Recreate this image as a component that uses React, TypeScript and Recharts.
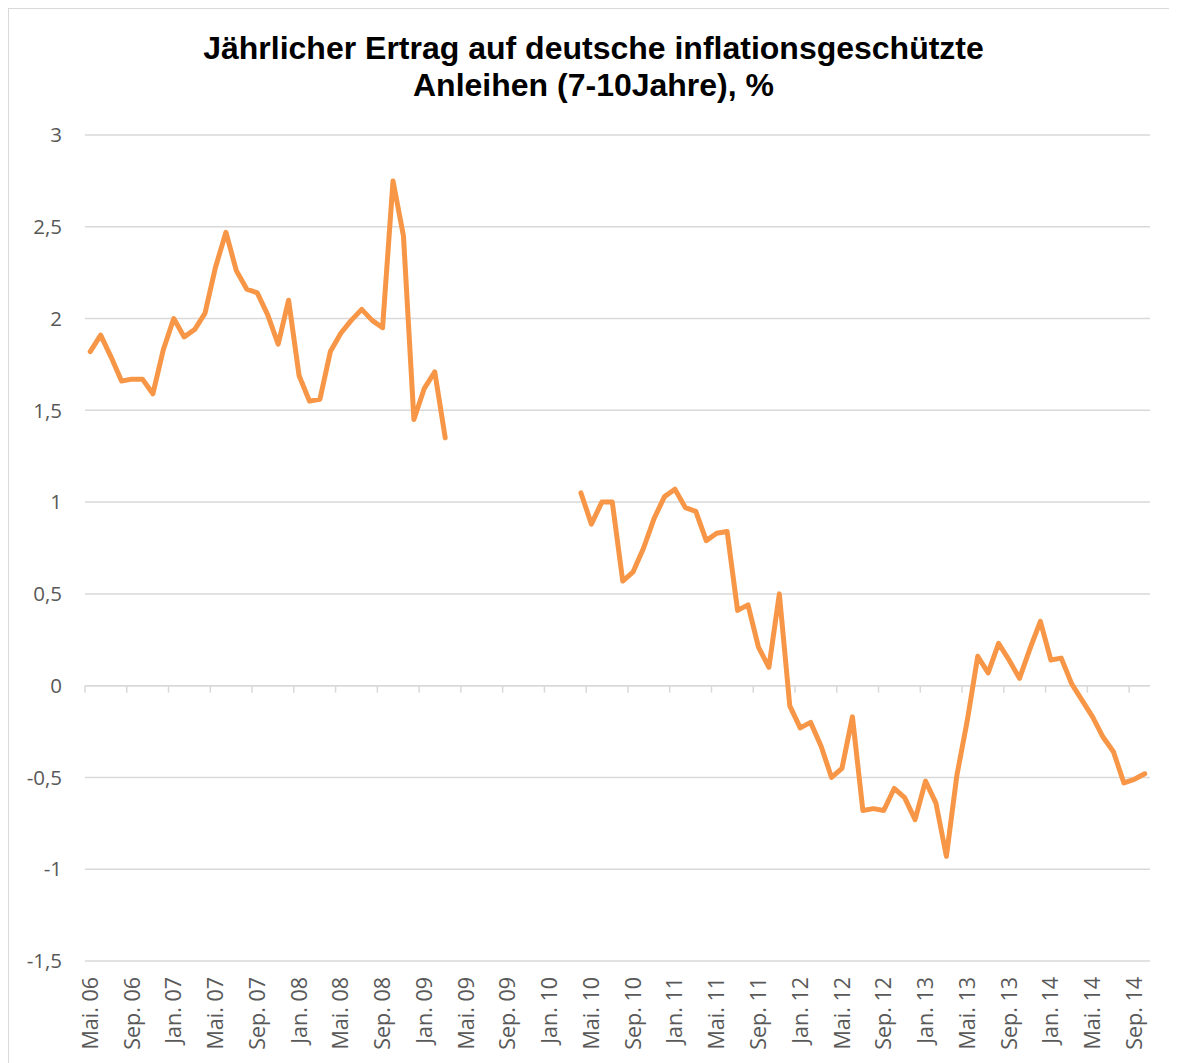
import React from 'react'
import { LineChart, Line, XAxis, YAxis, CartesianGrid, ReferenceLine } from 'recharts'

// month names used for the category labels (Mai 2006 .. Okt 2014)
const monthNames = ['Jan.', 'Feb.', 'Mär.', 'Apr.', 'Mai.', 'Jun.', 'Jul.', 'Aug.', 'Sep.', 'Okt.', 'Nov.', 'Dez.']
const startYear = 2006
const startMonth = 4

// yearly yield, % (null = no data)
const firstPeriod = [
  1.82, 1.91, 1.79, 1.66, 1.67, 1.67, 1.59, 1.83, 2.0, 1.9, 1.94, 2.03,
  2.28, 2.47, 2.26, 2.16, 2.14, 2.02, 1.86, 2.1, 1.69, 1.55, 1.56, 1.82,
  1.92, 1.99, 2.05, 1.99, 1.95, 2.75, 2.45, 1.45, 1.62, 1.71, 1.35,
]
const gap = [null, null, null, null, null, null, null, null, null, null, null, null]
const secondPeriod = [
  1.05, 0.88, 1.0, 1.0, 0.57, 0.62, 0.75, 0.91, 1.03, 1.07,
  0.97, 0.95, 0.79, 0.83, 0.84, 0.41, 0.44, 0.21, 0.1, 0.5,
  -0.11, -0.23, -0.2, -0.33, -0.5, -0.45, -0.17, -0.68, -0.67, -0.68,
  -0.56, -0.61, -0.73, -0.52, -0.64, -0.93, -0.49, -0.19, 0.16, 0.07,
  0.23, 0.14, 0.04, 0.2, 0.35, 0.14, 0.15, 0.01, -0.08, -0.17,
  -0.28, -0.36, -0.53, -0.51, -0.48,
]
const yields: (number | null)[] = [...firstPeriod, ...gap, ...secondPeriod]

const tickLabels = [
  'Mai. 06', 'Sep. 06', 'Jan. 07', 'Mai. 07', 'Sep. 07', 'Jan. 08', 'Mai. 08', 'Sep. 08', 'Jan. 09',
  'Mai. 09', 'Sep. 09', 'Jan. 10', 'Mai. 10', 'Sep. 10', 'Jan. 11', 'Mai. 11', 'Sep. 11', 'Jan. 12',
  'Mai. 12', 'Sep. 12', 'Jan. 13', 'Mai. 13', 'Sep. 13', 'Jan. 14', 'Mai. 14', 'Sep. 14',
]
const yTicks = [-1.5, -1, -0.5, 0, 0.5, 1, 1.5, 2, 2.5, 3]

const categories = yields.map((_, i) => {
  const m = startMonth + i
  const yy = (startYear + Math.floor(m / 12)) % 100
  return `${monthNames[m % 12]} ${String(yy).padStart(2, '0')}`
})
const data = yields.map((v, i) => ({ i, month: categories[i], yield: v }))
const xTicks = tickLabels.map((l) => categories.indexOf(l))

const labelFont = '"Open Sans", sans-serif'

function XTick({ x, y, payload }: any) {
  return (
    <text
      x={x}
      y={y}
      transform={`rotate(-90 ${x} ${y})`}
      textAnchor="end"
      dy="0.35em"
      fill="#595959"
      fontSize={21.5}
      fontFamily={labelFont}
    >
      {categories[payload.value]}
    </text>
  )
}

export default function App() {
  return (
    <div
      style={{
        position: 'relative',
        width: 1169,
        height: 1055,
        borderTop: '1px solid #d9d9d9',
        borderLeft: '1px solid #d9d9d9',
        background: '#fff',
      }}
    >
      <div
        style={{
          position: 'absolute',
          top: 21,
          left: 0,
          width: 1169,
          textAlign: 'center',
          fontFamily: '"Liberation Sans", Arial, sans-serif',
          fontWeight: 'bold',
          fontSize: 32,
          lineHeight: '37px',
          color: '#000',
        }}
      >
        Jährlicher Ertrag auf deutsche inflationsgeschützte
        <br />
        Anleihen (7-10Jahre), %
      </div>
      <LineChart width={1169} height={1055} data={data} margin={{ top: 126, right: 28, bottom: 8, left: 16 }}>
        <CartesianGrid vertical={false} stroke="#d9d9d9" strokeWidth={1.5} />
        <XAxis
          type="number"
          dataKey="i"
          domain={[-0.5, 101.5]}
          ticks={xTicks}
          interval={0}
          tick={<XTick />}
          tickLine={false}
          axisLine={false}
          tickSize={0}
          tickMargin={16}
          height={95}
        />
        <YAxis
          domain={[-1.5, 3]}
          ticks={yTicks}
          interval={0}
          tickFormatter={(v: number) => String(v).replace('.', ',')}
          tick={{ fill: '#595959', fontSize: 20.5, fontFamily: labelFont }}
          tickLine={false}
          axisLine={false}
          tickSize={0}
          tickMargin={23}
          width={60}
        />
        <ReferenceLine y={0} stroke="#d9d9d9" strokeWidth={1.5} />
        {xTicks.map((t) => (
          <ReferenceLine
            key={t}
            segment={[
              { x: t - 0.5, y: 0 },
              { x: t - 0.5, y: -0.038 },
            ]}
            stroke="#d9d9d9"
            strokeWidth={1.5}
          />
        ))}
        <Line
          type="linear"
          dataKey="yield"
          stroke="#F79646"
          strokeWidth={5}
          strokeLinecap="round"
          strokeLinejoin="round"
          dot={false}
          activeDot={false}
          isAnimationActive={false}
        />
      </LineChart>
    </div>
  )
}
